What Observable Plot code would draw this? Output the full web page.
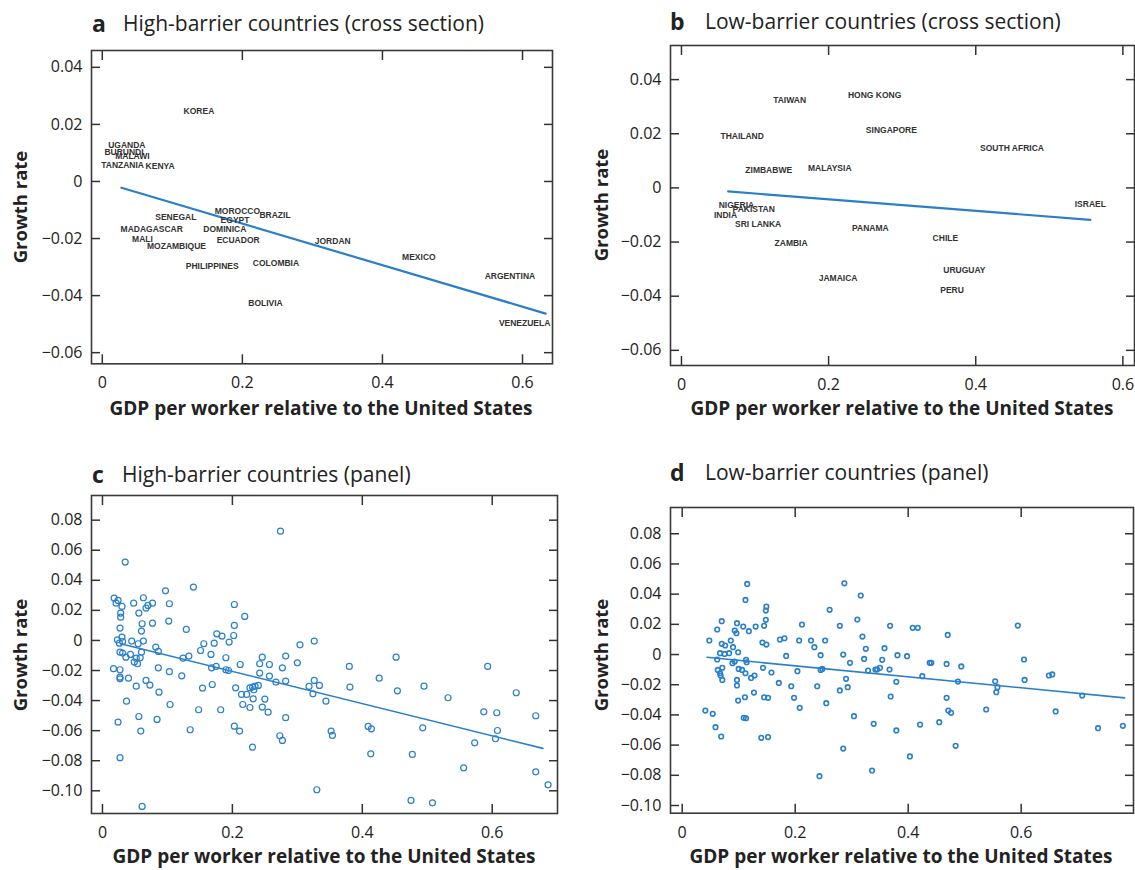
<!DOCTYPE html>
<html><head><meta charset="utf-8">
<script src="https://cdn.jsdelivr.net/npm/d3@7"></script>
<script src="https://cdn.jsdelivr.net/npm/@observablehq/plot@0.6"></script>
<style>
body{margin:0;background:#fff;}
#root{position:relative;width:1135px;height:870px;overflow:hidden;font-family:"Open Sans",sans-serif;color:#222;}
.panel{position:absolute;}
.panel svg{overflow:visible;}
.tl{position:absolute;font-weight:700;font-size:23px;line-height:1;white-space:nowrap;}
.tt{position:absolute;font-size:21px;line-height:1;white-space:nowrap;}
.xlab{position:absolute;font-weight:700;font-size:19px;line-height:1;white-space:nowrap;transform:translateX(-50%);}
.ylab{position:absolute;font-weight:700;font-size:18.5px;line-height:1;white-space:nowrap;transform:translate(-50%,-50%) rotate(-90deg);}
</style></head>
<body><div id="root"></div>
<script>
// ---------- data ----------
const xTicks = [0, 0.2, 0.4, 0.6];
const yTicksCross = [-0.06, -0.04, -0.02, 0, 0.02, 0.04];
const yTicksPanel = [-0.10, -0.08, -0.06, -0.04, -0.02, 0, 0.02, 0.04, 0.06, 0.08];

const highCountries = ["KOREA","UGANDA","BURUNDI","MALAWI","TANZANIA","KENYA","SENEGAL","MOROCCO","BRAZIL","EGYPT","MADAGASCAR","DOMINICA","MALI","ECUADOR","JORDAN","MOZAMBIQUE","PHILIPPINES","COLOMBIA","BOLIVIA","MEXICO","ARGENTINA","VENEZUELA"];
const highGdp = [0.138,0.035,0.031,0.043,0.029,0.0825,0.105,0.193,0.2466,0.1895,0.0706,0.175,0.0574,0.194,0.329,0.106,0.157,0.248,0.233,0.452,0.582,0.603];
const highGrowth = [0.0245,0.0126,0.0103,0.0088,0.0056,0.0053,-0.0125,-0.0104,-0.0119,-0.0136,-0.0168,-0.0168,-0.0201,-0.0207,-0.0210,-0.0228,-0.0297,-0.0286,-0.0428,-0.0267,-0.0333,-0.0498];
const highFitGdp = [0.0274, 0.633];
const highFitGrowth = [-0.0022, -0.0463];

const lowCountries = ["TAIWAN","HONG KONG","THAILAND","SINGAPORE","SOUTH AFRICA","ZIMBABWE","MALAYSIA","NIGERIA","PAKISTAN","INDIA","ISRAEL","SRI LANKA","PANAMA","CHILE","ZAMBIA","URUGUAY","JAMAICA","PERU"];
const lowGdp = [0.147,0.2626,0.0825,0.2853,0.4493,0.1186,0.2015,0.0747,0.0982,0.0598,0.5557,0.1042,0.2568,0.3587,0.149,0.3845,0.2129,0.3678];
const lowGrowth = [0.0322,0.0341,0.0191,0.0212,0.0148,0.0066,0.0074,-0.0063,-0.0078,-0.0100,-0.0059,-0.0133,-0.0148,-0.0186,-0.0203,-0.0303,-0.0332,-0.0379];
const lowFitGdp = [0.0635, 0.5557];
const lowFitGrowth = [-0.0013, -0.0118];

const highPanel = [[0.274,0.0727],[0.035,0.0521],[0.140,0.0355],[0.097,0.033],[0.018,0.0282],[0.024,0.0266],[0.021,0.0248],[0.030,0.0226],[0.028,0.0182],[0.028,0.0155],[0.048,0.0248],[0.056,0.0182],[0.063,0.0284],[0.067,0.0215],[0.070,0.0233],[0.077,0.0248],[0.103,0.0244],[0.061,0.0111],[0.077,0.0115],[0.102,0.0129],[0.203,0.0239],[0.219,0.016],[0.027,0.0082],[0.060,0.0062],[0.129,0.0073],[0.023,0.0004],[0.030,0.0022],[0.045,-0.0004],[0.063,-0.0004],[0.055,-0.0022],[0.026,-0.0018],[0.031,-0.0007],[0.027,-0.0078],[0.031,-0.0084],[0.036,-0.0111],[0.043,-0.0093],[0.049,-0.0144],[0.054,-0.0155],[0.052,-0.0118],[0.058,-0.0115],[0.060,-0.0078],[0.082,-0.0044],[0.086,-0.0073],[0.124,-0.0118],[0.133,-0.0104],[0.017,-0.0188],[0.027,-0.0195],[0.027,-0.0244],[0.027,-0.0255],[0.040,-0.0251],[0.086,-0.0182],[0.103,-0.0208],[0.052,-0.0304],[0.067,-0.0266],[0.073,-0.0297],[0.087,-0.0344],[0.037,-0.0404],[0.122,-0.0235],[0.151,-0.0067],[0.156,-0.0022],[0.167,-0.0093],[0.172,-0.0018],[0.176,0.0044],[0.184,0.0029],[0.195,-0.0011],[0.202,0.0033],[0.203,0.010],[0.190,-0.0115],[0.168,-0.0182],[0.175,-0.0173],[0.190,-0.0195],[0.194,-0.020],[0.169,-0.0293],[0.154,-0.0317],[0.212,-0.016],[0.205,-0.0315],[0.214,-0.0359],[0.222,-0.0359],[0.216,-0.0426],[0.227,-0.0315],[0.231,-0.031],[0.235,-0.0304],[0.240,-0.0299],[0.233,-0.0328],[0.232,-0.0388],[0.227,-0.0446],[0.242,-0.0217],[0.242,-0.0155],[0.246,-0.0111],[0.257,-0.016],[0.257,-0.0237],[0.246,-0.0443],[0.250,-0.039],[0.255,-0.0477],[0.267,-0.0277],[0.277,-0.0182],[0.282,-0.0104],[0.282,-0.027],[0.300,-0.0149],[0.304,-0.0029],[0.282,-0.0514],[0.273,-0.0634],[0.277,-0.0665],[0.231,-0.071],[0.203,-0.057],[0.211,-0.0603],[0.182,-0.0461],[0.148,-0.0461],[0.135,-0.0594],[0.104,-0.0426],[0.084,-0.0525],[0.056,-0.0506],[0.059,-0.0603],[0.024,-0.0543],[0.027,-0.078],[0.061,-0.1104],[0.326,-0.0004],[0.318,-0.0306],[0.326,-0.0266],[0.324,-0.0355],[0.334,-0.0299],[0.330,-0.0993],[0.344,-0.0404],[0.352,-0.0603],[0.354,-0.0632],[0.380,-0.0173],[0.381,-0.031],[0.409,-0.0572],[0.414,-0.0588],[0.413,-0.0754],[0.426,-0.0251],[0.452,-0.0111],[0.454,-0.0335],[0.477,-0.0758],[0.475,-0.1064],[0.495,-0.0304],[0.493,-0.0581],[0.508,-0.108],[0.532,-0.0381],[0.556,-0.0847],[0.573,-0.0681],[0.587,-0.0475],[0.593,-0.0173],[0.607,-0.0481],[0.608,-0.0599],[0.605,-0.0654],[0.637,-0.0348],[0.667,-0.0501],[0.667,-0.0874],[0.686,-0.096]];
const highPanelFitGdp = [0.028, 0.678];
const highPanelFitGrowth = [-0.0022, -0.0718];

const lowPanel = [[0.115,0.0468],[0.112,0.0362],[0.149,0.0318],[0.148,0.0291],[0.148,0.023],[0.145,0.019],[0.070,0.0221],[0.062,0.0166],[0.048,0.0093],[0.070,0.0071],[0.076,0.006],[0.067,0.0009],[0.075,0.0004],[0.083,0.0009],[0.086,0.0093],[0.090,0.0049],[0.093,0.0159],[0.096,0.0141],[0.097,0.0208],[0.108,0.0185],[0.118,0.0155],[0.099,0.0015],[0.062,-0.0033],[0.089,-0.0057],[0.093,-0.0046],[0.113,-0.0035],[0.114,-0.0051],[0.063,-0.0102],[0.071,-0.0088],[0.067,-0.0124],[0.068,-0.0139],[0.071,-0.0168],[0.100,-0.0095],[0.106,-0.0102],[0.112,-0.0124],[0.097,-0.0168],[0.097,-0.0205],[0.122,-0.0155],[0.128,-0.0139],[0.127,-0.0252],[0.099,-0.0305],[0.111,-0.0283],[0.109,-0.0419],[0.113,-0.0422],[0.041,-0.0371],[0.054,-0.0393],[0.059,-0.0481],[0.069,-0.0543],[0.140,-0.0552],[0.152,-0.0547],[0.130,0.0185],[0.142,0.0079],[0.149,0.0066],[0.143,-0.0088],[0.145,-0.0283],[0.152,-0.0287],[0.158,-0.0119],[0.171,-0.0188],[0.173,0.0099],[0.181,0.0108],[0.184,-0.0009],[0.193,-0.021],[0.198,-0.0287],[0.204,-0.011],[0.207,0.0093],[0.212,0.0199],[0.208,-0.0353],[0.228,0.0093],[0.234,0.0049],[0.239,-0.021],[0.245,-0.0004],[0.245,-0.0102],[0.248,-0.0095],[0.253,0.0093],[0.261,0.0296],[0.255,-0.0322],[0.243,-0.0806],[0.279,0.019],[0.279,-0.0238],[0.285,0.0],[0.290,-0.0161],[0.293,-0.0216],[0.297,-0.0055],[0.287,0.0472],[0.285,-0.0623],[0.304,-0.0408],[0.310,0.0232],[0.316,0.0391],[0.319,0.0119],[0.325,0.0038],[0.322,-0.0029],[0.329,-0.0106],[0.339,-0.0459],[0.336,-0.0768],[0.342,-0.0099],[0.345,-0.0099],[0.350,-0.0088],[0.354,-0.0035],[0.358,0.0042],[0.367,-0.0099],[0.368,0.019],[0.369,-0.0278],[0.379,-0.0181],[0.381,-0.0004],[0.379,-0.0503],[0.398,-0.0011],[0.403,-0.0675],[0.408,0.0177],[0.417,0.0177],[0.421,-0.0464],[0.438,-0.0055],[0.441,-0.0055],[0.425,-0.0143],[0.470,0.013],[0.468,-0.0062],[0.494,-0.0079],[0.488,-0.0179],[0.468,-0.0287],[0.471,-0.0371],[0.476,-0.0386],[0.455,-0.0448],[0.484,-0.0605],[0.538,-0.0364],[0.554,-0.0177],[0.558,-0.0216],[0.556,-0.0249],[0.594,0.0192],[0.605,-0.0033],[0.606,-0.0168],[0.649,-0.0139],[0.655,-0.0132],[0.661,-0.0377],[0.708,-0.0272],[0.736,-0.0488],[0.780,-0.0472]];
const lowPanelFitGdp = [0.044, 0.783];
const lowPanelFitGrowth = [-0.0018, -0.0287];

const titles = [
  {letter: "a", text: "High-barrier countries (cross section)"},
  {letter: "b", text: "Low-barrier countries (cross section)"},
  {letter: "c", text: "High-barrier countries (panel)"},
  {letter: "d", text: "Low-barrier countries (panel)"}
];
const xLabel = "GDP per worker relative to the United States";
const yLabel = "Growth rate";

// ---------- helpers ----------
const BLUE = "#2a7fcb";
const AXIS = "#333";
const fmtY = d => d === 0 ? "0" : d3.format(".2f")(d).replace("-", "\u2212");
const fmtX = d => d === 0 ? "0" : d3.format(".1f")(d);
const zip = (a, b, extra) => a.map((v, i) => ({x: v, y: b[i], ...(extra ? {name: extra[i]} : {})}));

function makePanel(cfg) {
  const axisOpts = {stroke: AXIS, strokeWidth: 1.5, label: null};
  return Plot.plot({
    width: cfg.width, height: cfg.height,
    marginLeft: cfg.ml, marginRight: cfg.mr, marginTop: cfg.mt, marginBottom: cfg.mb,
    style: {fontFamily: '"Open Sans", sans-serif', fontSize: "16px", color: "#222", background: "transparent", overflow: "visible"},
    x: {domain: cfg.xd},
    y: {domain: cfg.yd},
    marks: [
      Plot.frame({stroke: "#3a3a3a", strokeWidth: 1.6}),
      Plot.axisX({...axisOpts, ticks: xTicks, anchor: "bottom", tickSize: -9, tickPadding: 22, tickFormat: fmtX, fill: "#222"}),
      Plot.axisX({...axisOpts, ticks: xTicks, anchor: "top", tickSize: -9, fill: "none", tickFormat: () => ""}),
      Plot.axisY({...axisOpts, ticks: cfg.yt, anchor: "left", tickSize: -9, tickPadding: 18, tickFormat: fmtY, fill: "#222"}),
      Plot.axisY({...axisOpts, ticks: cfg.yt, anchor: "right", tickSize: -9, fill: "none", tickFormat: () => ""}),
      ...cfg.marks
    ]
  });
}

const root = document.getElementById("root");
function place(node, left, top) {
  const d = document.createElement("div");
  d.className = "panel";
  d.style.left = left + "px"; d.style.top = top + "px";
  d.appendChild(node);
  root.appendChild(d);
}
function addText(cls, text, left, top) {
  const d = document.createElement("div");
  d.className = cls; d.textContent = text;
  d.style.left = left + "px"; d.style.top = top + "px";
  root.appendChild(d);
}

const labelStyle = {fontFamily: '"Liberation Sans", Arial, sans-serif', fontSize: 8.5, fontWeight: "bold", fill: "#333"};

// ---------- panel a ----------
place(makePanel({
  width: 565, height: 395, ml: 91, mr: 13, mt: 10, mb: 71.7,
  xd: [-0.0154, 0.6428], yd: [-0.0639, 0.0459], yt: yTicksCross,
  marks: [
    Plot.line(zip(highFitGdp, highFitGrowth), {x: "x", y: "y", stroke: BLUE, strokeWidth: 2.2}),
    Plot.text(zip(highGdp, highGrowth, highCountries), {x: "x", y: "y", text: "name", ...labelStyle})
  ]
}), 0, 40);

// ---------- panel b ----------
place(makePanel({
  width: 560, height: 400, ml: 95, mr: 1, mt: 10, mb: 70,
  xd: [-0.0149, 0.6158], yd: [-0.0656, 0.0526], yt: yTicksCross,
  marks: [
    Plot.line(zip(lowFitGdp, lowFitGrowth), {x: "x", y: "y", stroke: BLUE, strokeWidth: 2.2}),
    Plot.text(zip(lowGdp, lowGrowth, lowCountries), {x: "x", y: "y", text: "name", ...labelStyle})
  ]
}), 575, 35);

// ---------- panel c ----------
place(makePanel({
  width: 570, height: 385, ml: 91, mr: 13, mt: 10, mb: 57,
  xd: [-0.0169, 0.7005], yd: [-0.1151, 0.0964], yt: yTicksPanel,
  marks: [
    Plot.dot(highPanel, {x: d => d[0], y: d => d[1], r: 3, stroke: BLUE, strokeWidth: 1.2, fill: "none"}),
    Plot.line(zip(highPanelFitGdp, highPanelFitGrowth), {x: "x", y: "y", stroke: BLUE, strokeWidth: 1.6})
  ]
}), 0, 485);

// ---------- panel d ----------
place(makePanel({
  width: 560, height: 385, ml: 95, mr: 2, mt: 22, mb: 57.3,
  xd: [-0.0207, 0.7988], yd: [-0.1051, 0.0974], yt: yTicksPanel,
  marks: [
    Plot.dot(lowPanel, {x: d => d[0], y: d => d[1], r: 2.3, stroke: BLUE, strokeWidth: 1.6, fill: "none"}),
    Plot.line(zip(lowPanelFitGdp, lowPanelFitGrowth), {x: "x", y: "y", stroke: BLUE, strokeWidth: 1.6})
  ]
}), 575, 485);

// ---------- titles and axis labels ----------
const titlePos = [
  {lx: 92, tx: 123, base: 32},
  {lx: 670, tx: 705, base: 30},
  {lx: 92, tx: 122, base: 483},
  {lx: 670, tx: 705, base: 481}
];
titles.forEach((t, i) => {
  const p = titlePos[i];
  addText("tl", t.letter, p.lx, p.base - 0.888 * 23);
  addText("tt", t.text, p.tx, p.base - 0.888 * 21);
});
[[321, 399], [902, 399], [324, 847], [901, 847]].forEach(([x, y]) => addText("xlab", xLabel, x, y));
[[20, 207], [601, 205], [20, 655], [601, 655]].forEach(([x, y]) => addText("ylab", yLabel, x, y));
</script>
</body></html>
